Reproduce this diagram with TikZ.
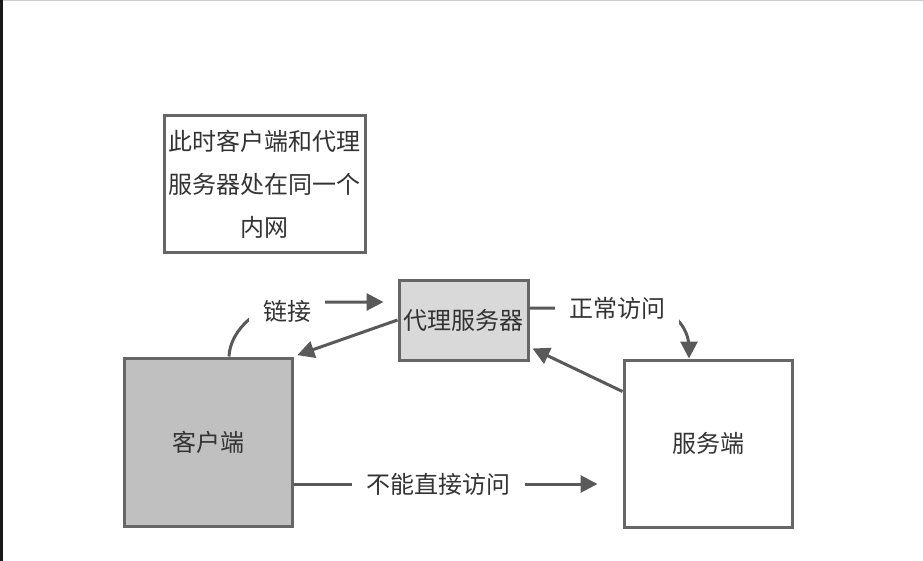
\documentclass[tikz,border=0pt]{standalone}
\usepackage{fontspec}
\setmainfont{Noto Sans CJK SC}
\usetikzlibrary{arrows.meta,calc}
\definecolor{edgec}{HTML}{595959}
\definecolor{borderc}{HTML}{666666}
\definecolor{textc}{HTML}{333333}
\definecolor{clientfill}{HTML}{C0C0C0}
\definecolor{proxyfill}{HTML}{D9D9D9}
\begin{document}
\begin{tikzpicture}[x=1pt,y=-1pt,
  box/.style={draw=borderc, line width=3pt, inner sep=0pt, text=textc,
    font=\fontsize{24}{43}\selectfont},
  conn/.style={draw=edgec, line width=3pt, -{Triangle[length=17pt,width=17pt]}},
  lbl/.style={fill=white, text=textc, inner xsep=14pt, inner ysep=9pt,
    font=\fontsize{24}{28}\selectfont}]
\useasboundingbox (0,0) rectangle (923,561);
\fill[white] (0,0) rectangle (923,561);
\fill[black!90] (0,0) rectangle (3,561);
\fill[black!20] (3,0) rectangle (923,1.5);

\node[box, minimum width=201pt, minimum height=137pt, align=center] (note) at (264.5,184.5)
  {此时客户端和代理\\服务器处在同一个\\内网};
\node[box, fill=clientfill, minimum width=168pt, minimum height=168pt] (client) at (208,442) {客户端};
\node[box, fill=white, minimum width=168pt, minimum height=167pt] (server) at (708,443.5) {服务端};
\node[box, fill=proxyfill, minimum width=129pt, minimum height=80pt] (proxy) at (463.5,320) {代理服务器};

% client -> proxy (链接)
\coordinate (c1s) at ($(client.north)+(21,0)$);
\draw[conn, shorten >=14pt] (c1s) .. controls (230,330) and (259,302) .. (298,302) -- (proxy.west |- 0,302);
\node[lbl] (l1) at (287,311) {链接};

% proxy -> client
\draw[conn, shorten >=4pt] (proxy.west) -- (client.north east);

% proxy -> server (正常访问)
\coordinate (c3s) at ($(proxy.east)+(0,-12)$);
\coordinate (c3e) at ($(server.north)+(-19,0)$);
\draw[conn] (c3s) -- (649,308) .. controls (671,308) and (689,326) .. (689,348) -- (c3e);
\node[lbl] (l3) at (617,308) {正常访问};

% server -> proxy
\coordinate (c4s) at ($(server.north west)+(0,33)$);
\coordinate (c4e) at ($(proxy.south east)+(3,-13)$);
\draw[conn] (c4s) -- (c4e);

% client -> server (不能直接访问)
\coordinate (c5s) at ($(client.east)+(0,42)$);
\draw[conn, shorten >=25pt] (c5s) -- (server.west |- c5s);
\node[lbl, inner xsep=14.5pt] (l5) at (438,484) {不能直接访问};
\end{tikzpicture}
\end{document}
